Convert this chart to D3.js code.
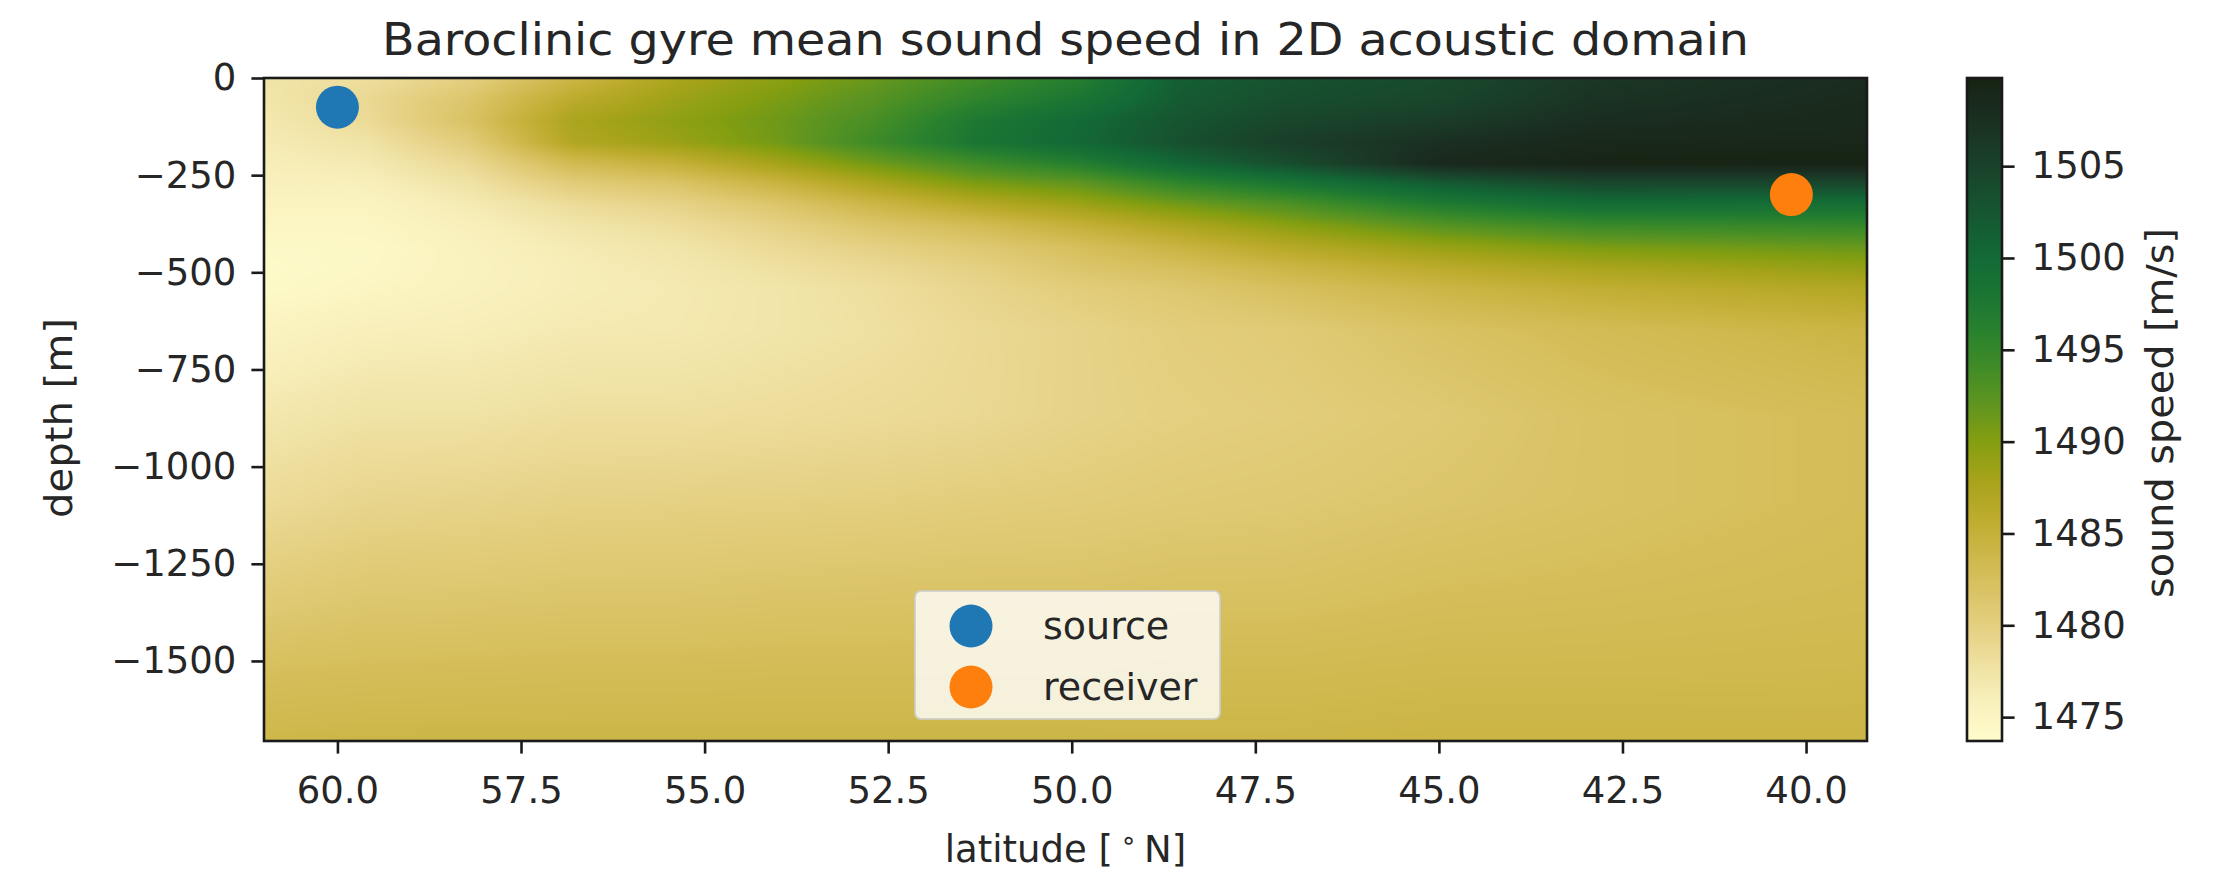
<!DOCTYPE html>
<html>
<head>
<meta charset="utf-8">
<script src="https://cdn.jsdelivr.net/npm/d3@7"></script>
<style>
  html, body { margin: 0; padding: 0; background: #ffffff; }
  svg { display: block; }
  text { font-family: "DejaVu Sans", sans-serif; fill: #262626; }
</style>
</head>
<body>
<svg id="chart" width="2233" height="872"></svg>
<script>
// Section latitudes (°N), north to south
const latitudes = [61.0, 59.6, 58.2, 56.8, 55.4, 54.0, 52.7, 51.3, 49.9, 48.5, 47.1, 45.0, 42.9, 39.2];
// Depth levels (m, negative downward)
const depthLevels = [0, -55, -110, -165, -220, -270, -325, -380, -435, -490, -545, -650, -870, -1090, -1305, -1525, -1706];
// Mean sound speed (m/s): one row per depth level, one column per latitude
const soundSpeed = [
  [1477.5, 1478.0, 1480.0, 1484.0, 1487.5, 1489.5, 1491.5, 1494.0, 1496.5, 1501.5, 1503.0, 1504.0, 1506.5, 1508.0],
  [1477.2, 1478.8, 1481.5, 1486.0, 1488.5, 1490.5, 1492.5, 1495.5, 1498.0, 1502.0, 1503.5, 1504.5, 1507.0, 1508.3],
  [1476.8, 1478.5, 1482.0, 1487.5, 1489.3, 1491.2, 1493.5, 1497.5, 1500.0, 1502.8, 1504.5, 1505.8, 1507.8, 1508.6],
  [1476.5, 1477.5, 1480.5, 1487.0, 1488.7, 1491.0, 1494.3, 1498.0, 1500.3, 1503.3, 1505.5, 1507.5, 1508.8, 1509.0],
  [1476.2, 1476.7, 1478.8, 1483.2, 1485.0, 1488.0, 1491.0, 1494.0, 1496.5, 1500.5, 1503.5, 1508.5, 1509.5, 1509.6],
  [1475.8, 1476.0, 1477.6, 1480.5, 1481.8, 1484.5, 1487.5, 1490.5, 1492.0, 1495.5, 1498.0, 1502.0, 1504.5, 1504.5],
  [1475.3, 1475.3, 1476.6, 1478.4, 1479.5, 1481.5, 1484.0, 1486.5, 1488.5, 1491.0, 1493.0, 1497.0, 1499.5, 1499.0],
  [1474.9, 1474.9, 1476.0, 1477.2, 1478.2, 1479.7, 1481.5, 1483.0, 1485.0, 1487.3, 1489.5, 1492.5, 1494.5, 1495.0],
  [1474.5, 1474.6, 1475.6, 1476.6, 1477.3, 1478.6, 1479.8, 1481.0, 1482.5, 1484.5, 1486.5, 1488.8, 1490.5, 1491.5],
  [1474.3, 1474.7, 1475.5, 1476.3, 1476.9, 1477.8, 1478.7, 1479.8, 1481.5, 1482.5, 1484.0, 1486.0, 1487.5, 1489.0],
  [1474.4, 1475.0, 1475.6, 1476.3, 1476.7, 1477.3, 1478.0, 1479.2, 1480.3, 1481.2, 1482.3, 1484.0, 1485.3, 1486.8],
  [1475.3, 1476.0, 1476.2, 1476.7, 1476.8, 1477.3, 1477.8, 1478.7, 1479.5, 1480.3, 1480.7, 1482.0, 1483.0, 1484.2],
  [1477.0, 1477.6, 1477.6, 1478.0, 1478.0, 1478.2, 1478.5, 1478.8, 1479.5, 1480.0, 1480.3, 1481.0, 1482.0, 1482.8],
  [1478.5, 1479.2, 1479.4, 1479.7, 1479.8, 1479.9, 1480.0, 1480.3, 1480.5, 1480.8, 1481.0, 1481.5, 1482.0, 1482.8],
  [1480.4, 1481.0, 1481.1, 1481.3, 1481.3, 1481.5, 1481.6, 1481.7, 1481.7, 1482.0, 1482.0, 1482.5, 1482.7, 1483.1],
  [1482.5, 1482.7, 1482.8, 1482.9, 1482.9, 1483.0, 1483.0, 1483.0, 1483.0, 1483.3, 1483.3, 1483.5, 1483.5, 1483.6],
  [1483.8, 1484.0, 1484.0, 1484.0, 1484.0, 1484.0, 1484.0, 1484.0, 1484.0, 1484.0, 1484.0, 1484.2, 1484.2, 1484.2]
];

const latExtent = [61.0, 39.17];
const depthExtent = [-1706, 0];
const speedRange = [1473.7, 1509.8];
const xTicks = [60.0, 57.5, 55.0, 52.5, 50.0, 47.5, 45.0, 42.5, 40.0];
const yTicks = [0, -250, -500, -750, -1000, -1250, -1500];
const cbarTicks = [1475, 1480, 1485, 1490, 1495, 1500, 1505];

const source = { name: "source", lat: 60.0, depth: -75 };
const receiver = { name: "receiver", lat: 40.2, depth: -300 };

// Yellow-to-green "speed" colour ramp, as fractions of the colour range
const rampStops = [
  [0.000, "#fffdcd"], [0.064, "#f8efbb"], [0.119, "#eedf9f"], [0.175, "#e4cf80"],
  [0.230, "#d9c263"], [0.285, "#cdb647"], [0.341, "#bcab2c"], [0.396, "#a5a31a"],
  [0.452, "#849e10"], [0.507, "#5f9520"], [0.562, "#418c27"], [0.618, "#29812e"],
  [0.673, "#1a7533"], [0.729, "#136a36"], [0.784, "#155a32"], [0.839, "#184a2d"],
  [0.895, "#1a3a27"], [0.950, "#1a2c1f"], [1.000, "#172313"]
];

const plot = { left: 264, right: 1867, top: 78, bottom: 741 };
const cbar = { left: 1967, right: 2002 };
const FS = 37;

const svg = d3.select("#chart");

const x = d3.scaleLinear().domain(latExtent).range([plot.left, plot.right]);
const y = d3.scaleLinear().domain(depthExtent).range([plot.bottom, plot.top]);
const colorAt = d3.scaleLinear()
  .domain(rampStops.map(d => speedRange[0] + d[0] * (speedRange[1] - speedRange[0])))
  .range(rampStops.map(d => d[1]))
  .interpolate(d3.interpolateRgb)
  .clamp(true);

// ---- field image (Gouraud-style shading between grid nodes) ----
function locate(arr, v) {
  const n = arr.length;
  const desc = arr[0] > arr[n - 1];
  for (let i = 0; i < n - 1; i++) {
    const a = arr[i], b = arr[i + 1];
    if ((desc && v <= a && v >= b) || (!desc && v >= a && v <= b)) return [i, (v - a) / (b - a)];
  }
  if ((desc && v > arr[0]) || (!desc && v < arr[0])) return [0, 0];
  return [n - 2, 1];
}

const pw = plot.right - plot.left, ph = plot.bottom - plot.top;
const canvas = document.createElement("canvas");
canvas.width = pw; canvas.height = ph;
const ctx = canvas.getContext("2d");
const img = ctx.createImageData(pw, ph);

const LUT_N = 2048;
const lut = [];
for (let k = 0; k < LUT_N; k++) {
  const v = speedRange[0] + (k / (LUT_N - 1)) * (speedRange[1] - speedRange[0]);
  const c = d3.rgb(colorAt(v));
  lut.push([c.r, c.g, c.b]);
}
const colIdx = d3.range(pw).map(px => locate(latitudes, x.invert(plot.left + px + 0.5)));
const rowIdx = d3.range(ph).map(py => locate(depthLevels, y.invert(plot.top + py + 0.5)));

for (let py = 0; py < ph; py++) {
  const [j, s] = rowIdx[py];
  const r0 = soundSpeed[j], r1 = soundSpeed[j + 1];
  for (let px = 0; px < pw; px++) {
    const [i, t] = colIdx[px];
    const top = r0[i] + (r0[i + 1] - r0[i]) * t;
    const bot = r1[i] + (r1[i + 1] - r1[i]) * t;
    const v = top + (bot - top) * s;
    let k = Math.round((v - speedRange[0]) / (speedRange[1] - speedRange[0]) * (LUT_N - 1));
    k = Math.max(0, Math.min(LUT_N - 1, k));
    const o = (py * pw + px) * 4;
    img.data[o] = lut[k][0]; img.data[o + 1] = lut[k][1]; img.data[o + 2] = lut[k][2]; img.data[o + 3] = 255;
  }
}
ctx.putImageData(img, 0, 0);

svg.append("image")
  .attr("x", x(latExtent[0])).attr("y", y(depthExtent[1]))
  .attr("width", x(latExtent[1]) - x(latExtent[0]))
  .attr("height", y(depthExtent[0]) - y(depthExtent[1]))
  .attr("preserveAspectRatio", "none")
  .attr("href", canvas.toDataURL());

// ---- source / receiver markers ----
const markerColor = { source: "#1f77b4", receiver: "#ff7f0e" };
const R = 21.5;
svg.append("g").selectAll("circle")
  .data([source, receiver])
  .join("circle")
  .attr("cx", d => x(d.lat))
  .attr("cy", d => y(d.depth))
  .attr("r", R)
  .attr("fill", d => markerColor[d.name]);

// ---- axes ----
const tickLen = 12.6, axisW = 2.6;
const xAxis = svg.append("g")
  .attr("transform", `translate(0,${plot.bottom})`)
  .call(d3.axisBottom(x).tickValues(xTicks).tickFormat(d3.format(".1f")).tickSize(tickLen).tickSizeOuter(0));
xAxis.selectAll("text").attr("y", 62).attr("dy", null).style("font-size", FS + "px");

const yAxis = svg.append("g")
  .attr("transform", `translate(${plot.left},0)`)
  .call(d3.axisLeft(y).tickValues(yTicks).tickFormat(d3.format("d")).tickSize(tickLen).tickSizeOuter(0).tickPadding(15));
yAxis.selectAll("text").style("font-size", FS + "px");

[xAxis, yAxis].forEach(g => {
  g.select(".domain").remove();
  g.selectAll(".tick line").attr("stroke", "#1a1a1a").attr("stroke-width", axisW);
});

// plot frame
svg.append("rect")
  .attr("x", plot.left).attr("y", plot.top)
  .attr("width", pw).attr("height", ph)
  .attr("fill", "none").attr("stroke", "#1a1a1a").attr("stroke-width", axisW);

// ---- legend ----
const legend = svg.append("g").attr("transform", "translate(915,591)");
legend.append("rect")
  .attr("width", 305).attr("height", 128).attr("rx", 6)
  .attr("fill", "#ffffff").attr("fill-opacity", 0.8)
  .attr("stroke", "#cccccc").attr("stroke-opacity", 0.8).attr("stroke-width", 2);
const items = legend.selectAll("g.item").data([source, receiver]).join("g")
  .attr("class", "item")
  .attr("transform", (d, i) => `translate(0,${35 + i * 61})`);
items.append("circle").attr("cx", 56).attr("r", R).attr("fill", d => markerColor[d.name]);
items.append("text").attr("x", 128).attr("y", 13).style("font-size", "38px").text(d => d.name);

// ---- titles ----
svg.append("text")
  .attr("x", (plot.left + plot.right) / 2).attr("y", 55)
  .attr("text-anchor", "middle").style("font-size", "44px")
  .attr("textLength", 1367).attr("lengthAdjust", "spacingAndGlyphs")
  .text("Baroclinic gyre mean sound speed in 2D acoustic domain");

const xl = svg.append("text")
  .attr("x", (plot.left + plot.right) / 2).attr("y", 862)
  .attr("text-anchor", "middle").style("font-size", FS + "px");
xl.append("tspan").text("latitude [\u2009");
xl.append("tspan").attr("dy", -13).style("font-size", "26px").text("∘");
xl.append("tspan").attr("dy", 13).text("\u2009N]");

svg.append("text")
  .attr("transform", `translate(72,418) rotate(-90)`)
  .attr("text-anchor", "middle").style("font-size", FS + "px")
  .attr("textLength", 200).attr("lengthAdjust", "spacingAndGlyphs")
  .text("depth [m]");

// ---- colorbar ----
const cy = d3.scaleLinear().domain(speedRange).range([plot.bottom, plot.top]);
const grad = svg.append("defs").append("linearGradient")
  .attr("id", "cbGrad").attr("x1", 0).attr("x2", 0).attr("y1", 1).attr("y2", 0);
d3.range(0, 1.0001, 0.02).forEach(f => {
  const v = speedRange[0] + f * (speedRange[1] - speedRange[0]);
  grad.append("stop").attr("offset", f).attr("stop-color", colorAt(v));
});
svg.append("rect")
  .attr("x", cbar.left).attr("y", cy(speedRange[1]))
  .attr("width", cbar.right - cbar.left).attr("height", cy(speedRange[0]) - cy(speedRange[1]))
  .attr("fill", "url(#cbGrad)")
  .attr("stroke", "#1a1a1a").attr("stroke-width", axisW);

const cAxis = svg.append("g")
  .attr("transform", `translate(${cbar.right},0)`)
  .call(d3.axisRight(cy).tickValues(cbarTicks).tickFormat(d3.format("d")).tickSize(tickLen).tickSizeOuter(0).tickPadding(17));
cAxis.select(".domain").remove();
cAxis.selectAll(".tick line").attr("stroke", "#1a1a1a").attr("stroke-width", axisW);
cAxis.selectAll("text").style("font-size", FS + "px");

svg.append("text")
  .attr("transform", `translate(2173,413) rotate(-90)`)
  .attr("text-anchor", "middle").style("font-size", FS + "px")
  .attr("textLength", 370).attr("lengthAdjust", "spacingAndGlyphs")
  .text("sound speed [m/s]");
</script>
</body>
</html>
